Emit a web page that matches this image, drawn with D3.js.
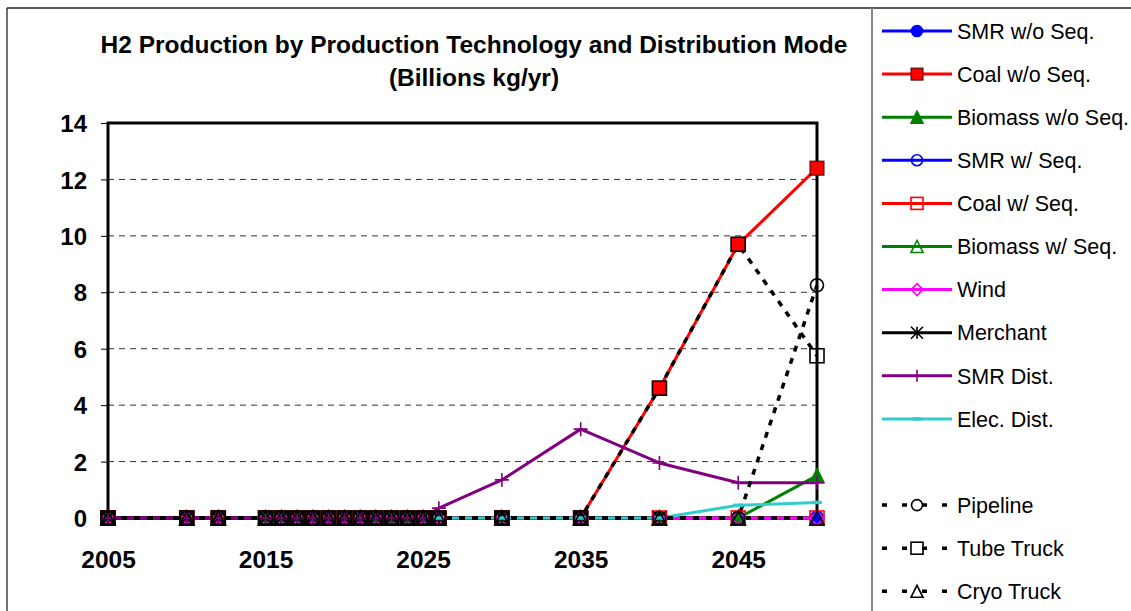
<!DOCTYPE html>
<html><head><meta charset="utf-8">
<script src="https://cdn.jsdelivr.net/npm/d3@7"></script>
<style>
body{margin:0;background:#fff}
svg{display:block}
text{font-family:"Liberation Sans",Arial,Helvetica,sans-serif;fill:#000}
</style>
</head><body>
<svg id="chart" width="1131" height="611"></svg>
<script>
// ---------------- data ----------------
const years = [2005,2010,2012,2015,2016,2017,2018,2019,2020,2021,2022,2023,2024,2025,2026,2030,2035,2040,2045,2050];
const smrWoSeq     = [0,0,0,0,0,0,0,0,0,0,0,0,0,0,0,0,0,0,0,0];
const coalWoSeq    = [0,0,0,0,0,0,0,0,0,0,0,0,0,0,0,0,0,4.6,9.7,12.4];
const biomassWoSeq = [0,0,0,0,0,0,0,0,0,0,0,0,0,0,0,0,0,0,0,1.5];
const smrWSeq      = [0,0,0,0,0,0,0,0,0,0,0,0,0,0,0,0,0,0,0,0];
const coalWSeq     = [0,0,0,0,0,0,0,0,0,0,0,0,0,0,0,0,0,0,0,0];
const biomassWSeq  = [0,0,0,0,0,0,0,0,0,0,0,0,0,0,0,0,0,0,0,0];
const wind         = [0,0,0,0,0,0,0,0,0,0,0,0,0,0,0,0,0,0,0,0];
const merchant     = [0,0,0,0,0,0,0,0,0,0,0,0,0,0,0,0,0,0,null,null];
const smrDist      = [0,0,0,0,0,0,0,0,0,0,0,0,0,0,0.35,1.35,3.15,1.95,1.25,1.25];
const elecDist     = [null,null,null,null,null,null,null,null,null,null,null,null,null,null,0,0,0,0,0.45,0.55];
const pipeline     = [0,0,0,0,0,0,0,0,0,0,0,0,0,0,0,0,0,0,0,8.25];
const tubeTruck    = [0,0,0,0,0,0,0,0,0,0,0,0,0,0,0,0,0,4.6,9.7,5.75];
const cryoTruck    = [0,0,0,0,0,0,0,0,0,0,0,0,0,0,0,0,0,0,0,0];

const seriesNames = ["SMR w/o Seq.","Coal w/o Seq.","Biomass w/o Seq.","SMR w/ Seq.","Coal w/ Seq.","Biomass w/ Seq.","Wind","Merchant","SMR Dist.","Elec. Dist.","Pipeline","Tube Truck","Cryo Truck"];
const seriesValues = [smrWoSeq,coalWoSeq,biomassWoSeq,smrWSeq,coalWSeq,biomassWSeq,wind,merchant,smrDist,elecDist,pipeline,tubeTruck,cryoTruck];
const xTickValues = [2005,2015,2025,2035,2045];
const yTickValues = [0,2,4,6,8,10,12,14];
const titleLines = ["H2 Production by Production Technology and Distribution Mode","(Billions kg/yr)"];

// ---------------- styles ----------------
const styles = [
  {color:"#0000FF", marker:"circle",   filled:true,  dashed:false},
  {color:"#FF0000", marker:"square",   filled:true,  dashed:false},
  {color:"#008000", marker:"triangle", filled:true,  dashed:false},
  {color:"#0000FF", marker:"circle",   filled:false, dashed:false},
  {color:"#FF0000", marker:"square",   filled:false, dashed:false},
  {color:"#008000", marker:"triangle", filled:false, dashed:false},
  {color:"#FF00FF", marker:"diamond",  filled:false, dashed:false},
  {color:"#000000", marker:"asterisk", filled:false, dashed:false},
  {color:"#800080", marker:"plus",     filled:false, dashed:false},
  {color:"#33CCCC", marker:"dash",     filled:false, dashed:false},
  {color:"#000000", marker:"circle",   filled:false, dashed:true},
  {color:"#000000", marker:"square",   filled:false, dashed:true},
  {color:"#000000", marker:"triangle", filled:false, dashed:true}
];

const svg = d3.select("#chart");
svg.append("rect").attr("width",1131).attr("height",611).attr("fill","#fff");

// outer frame
svg.append("line").attr("x1",7).attr("x2",1131).attr("y1",8).attr("y2",8).attr("stroke","#222").attr("stroke-width",1.3);
svg.append("line").attr("x1",7).attr("x2",7).attr("y1",8).attr("y2",611).attr("stroke","#222").attr("stroke-width",1.3);

const x = d3.scaleLinear().domain([2005,2050]).range([108,817]);
const y = d3.scaleLinear().domain([0,14]).range([518,123]);

// title
svg.append("text").attr("x",474).attr("y",53).attr("text-anchor","middle")
  .attr("font-size",24.5).attr("font-weight","bold").text(titleLines[0]);
svg.append("text").attr("x",474).attr("y",86).attr("text-anchor","middle")
  .attr("font-size",24.5).attr("font-weight","bold").text(titleLines[1]);

// gridlines
svg.append("g").selectAll("line").data(yTickValues.filter(v=>v>0 && v<14)).join("line")
  .attr("x1",x(2005)).attr("x2",x(2050)).attr("y1",d=>y(d)).attr("y2",d=>y(d))
  .attr("stroke","#333").attr("stroke-width",1).attr("stroke-dasharray","6,5");

// y axis ticks + labels
const yAxis = d3.axisLeft(y).tickValues(yTickValues).tickSize(7).tickFormat(d3.format("d"));
const gy = svg.append("g").attr("transform",`translate(${x(2005)},0)`).call(yAxis);
gy.select(".domain").remove();
gy.selectAll(".tick line").attr("stroke","#000").attr("stroke-width",1);
gy.selectAll(".tick text").attr("font-size",24).attr("font-weight","bold")
  .attr("font-family","Liberation Sans, Arial, sans-serif").attr("fill","#000")
  .attr("x",-21).attr("dy","0.36em");

// x axis labels
const xAxis = d3.axisBottom(x).tickValues(xTickValues).tickSize(0).tickFormat(d3.format("d"));
const gx = svg.append("g").attr("transform",`translate(0,${y(0)})`).call(xAxis);
gx.select(".domain").remove();
gx.selectAll(".tick text").attr("font-size",24.5).attr("font-weight","bold")
  .attr("font-family","Liberation Sans, Arial, sans-serif").attr("fill","#000")
  .attr("y",50).attr("dy",0);

// plot border
svg.append("rect").attr("x",x(2005)).attr("y",y(14)).attr("width",x(2050)-x(2005)).attr("height",y(0)-y(14))
  .attr("fill","none").attr("stroke","#000").attr("stroke-width",3);

// marker drawing
function drawMarker(g, st, s){
  const c = st.color, sw = 1.6;
  const fill = st.filled ? c : "none";
  const h = s/2;
  switch(st.marker){
    case "circle":
      g.append("circle").attr("r",h-0.5).attr("fill",fill).attr("stroke",c).attr("stroke-width",sw); break;
    case "square":
      g.append("rect").attr("x",-h).attr("y",-h).attr("width",s).attr("height",s).attr("fill",fill)
        .attr("stroke",st.filled?"#400":c).attr("stroke-width",st.filled?1:sw); break;
    case "triangle":
      g.append("path").attr("d",`M0,${-h} L${h},${h} L${-h},${h} Z`).attr("fill",fill).attr("stroke",c).attr("stroke-width",sw); break;
    case "diamond":
      g.append("path").attr("d",`M0,${-h} L${h},0 L0,${h} L${-h},0 Z`).attr("fill",fill).attr("stroke",c).attr("stroke-width",sw); break;
    case "asterisk":
      g.append("path").attr("d",`M${-h},${-h} L${h},${h} M${h},${-h} L${-h},${h} M0,${-h} L0,${h}`).attr("stroke",c).attr("stroke-width",sw); break;
    case "plus":
      g.append("path").attr("d",`M0,${-h} L0,${h} M${-h},0 L${h},0`).attr("stroke",c).attr("stroke-width",sw); break;
    case "dash":
      g.append("path").attr("d",`M${-h*0.7},0 L${h*0.7},0`).attr("stroke",c).attr("stroke-width",3.5); break;
  }
}

// lines
const lineGen = d3.line().defined(d=>d.v!==null).x(d=>x(d.year)).y(d=>y(d.v));
const seriesData = seriesValues.map(arr=>arr.map((v,i)=>({year:years[i], v:v})));
const linesG = svg.append("g");
seriesData.forEach((data,i)=>{
  const st = styles[i];
  linesG.append("path").datum(data).attr("d",lineGen).attr("fill","none")
    .attr("stroke",st.color).attr("stroke-width",st.dashed?3.5:3)
    .attr("stroke-dasharray",st.dashed?"6,7":null).attr("stroke-linejoin","round");
});
// markers
const markersG = svg.append("g");
seriesData.forEach((data,i)=>{
  const st = styles[i];
  data.filter(d=>d.v!==null).forEach(d=>{
    const g = markersG.append("g").attr("transform",`translate(${x(d.year)},${y(d.v)})`);
    drawMarker(g, st, 14);
  });
});

// legend
svg.append("line").attr("x1",872).attr("x2",872).attr("y1",8).attr("y2",611).attr("stroke","#888").attr("stroke-width",2);
const legendSlots = [0,1,2,3,4,5,6,7,8,9,11,12,13];
const lg = svg.append("g");
seriesNames.forEach((name,i)=>{
  const st = styles[i];
  const cy = 31 + legendSlots[i]*43.1;
  lg.append("line").attr("x1",882).attr("x2",952).attr("y1",cy).attr("y2",cy)
    .attr("stroke",st.color).attr("stroke-width",st.dashed?3.5:3)
    .attr("stroke-dasharray",st.dashed?"5,15":null);
  const g = lg.append("g").attr("transform",`translate(917,${cy})`);
  drawMarker(g, st, 12);
  lg.append("text").attr("x",957).attr("y",cy).attr("dy","0.36em").attr("font-size",21.5).text(name);
});
</script>
</body></html>
